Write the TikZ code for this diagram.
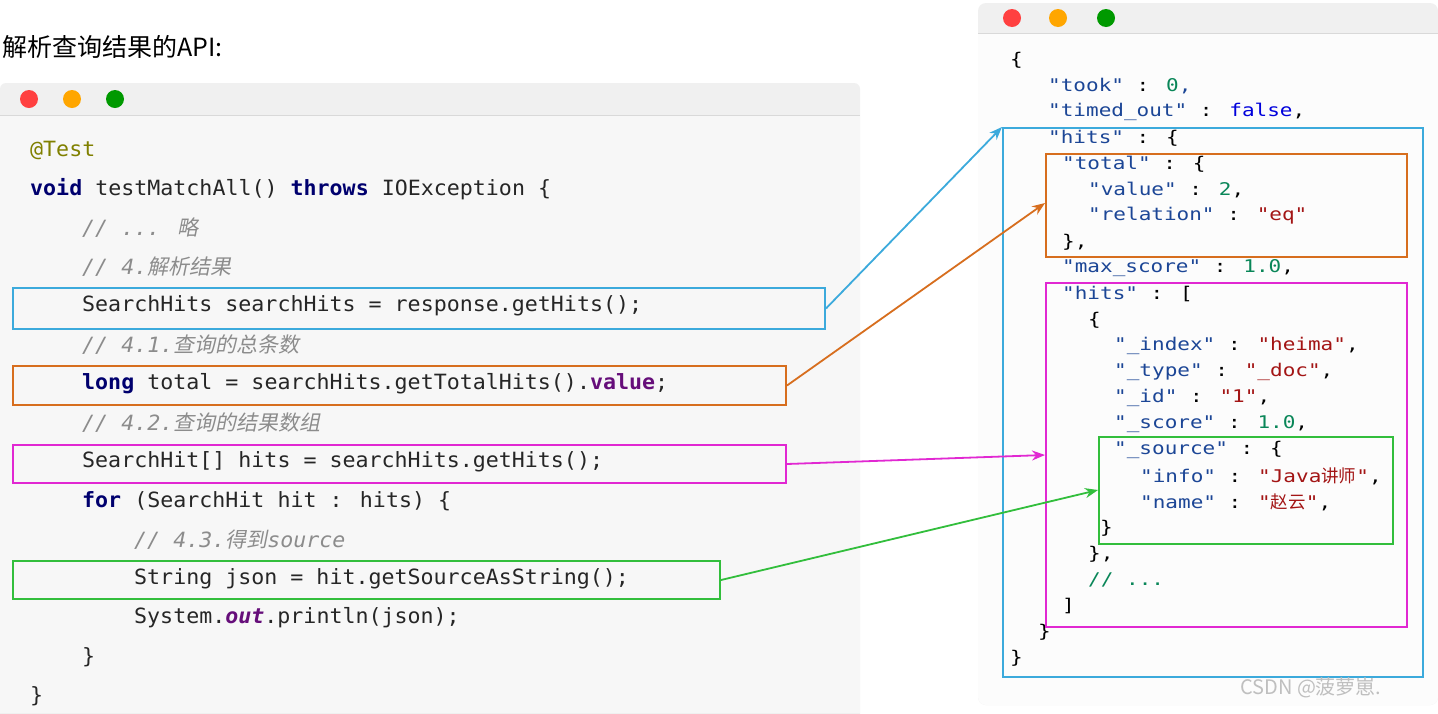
\documentclass[tikz,border=0pt]{standalone}
\usepackage{fontspec}
\setmainfont{DejaVu Sans}
\newfontfamily\cjk{Noto Sans CJK SC}
\newfontfamily\cjkit{Noto Sans CJK SC}[FakeSlant=0.2]
\newfontfamily\lmono{DejaVu Sans Mono}[FakeStretch=1.03]
\newfontfamily\rmono{DejaVu Sans Mono}[FakeStretch=1.2]
\usetikzlibrary{arrows.meta}
\definecolor{kw}{RGB}{0,0,110}
\definecolor{cm}{RGB}{140,140,140}
\definecolor{ann}{RGB}{128,128,0}
\definecolor{pv}{RGB}{102,14,122}
\definecolor{jk}{RGB}{28,70,150}
\definecolor{jn}{RGB}{9,134,88}
\definecolor{js}{RGB}{163,21,21}
\definecolor{jb}{RGB}{0,0,220}
\definecolor{cblue}{RGB}{60,170,220}
\definecolor{corange}{RGB}{215,110,30}
\definecolor{cmag}{RGB}{225,40,210}
\definecolor{cgreen}{RGB}{50,190,60}
\begin{document}
\begin{tikzpicture}[x=1pt,y=-1pt,
  lc/.style={anchor=west,inner sep=0,font=\lmono\fontsize{21}{24}\selectfont,text=black!85},
  rc/.style={anchor=west,inner sep=0,font=\rmono\fontsize{17.5}{20}\selectfont,text=jk},
  box/.style={draw,line width=2pt,inner sep=0,anchor=north west},
  arr/.style={line width=1.8pt,-{Stealth[length=13pt,width=10pt]}},
  dot/.style={circle,inner sep=0,minimum size=18pt}]
\useasboundingbox (0,0) rectangle (1438,713);
\fill[white] (0,0) rectangle (1438,713);
\node[anchor=west,inner sep=0,font=\cjk\fontsize{25}{28}\selectfont] (title) at (2,47) {解析查询结果的API:};
% left window
\fill[black!6,rounded corners=6pt] (0,83) rectangle (860,740);
\fill[black!3] (0,115) rectangle (860,713);
\draw[black!15] (0,115) -- (860,115);
\node[dot,fill=red!75] (l1) at (29,99) {};
\node[dot,fill=orange!70!yellow] (l2) at (72,99) {};
\node[dot,fill=green!60!black] (l3) at (115,99) {};
\node[lc,text=ann] (c1) at (30,150) {@Test};
\node[lc] (c2) at (30,189) {\textbf{\color{kw}void} testMatchAll() \textbf{\color{kw}throws} IOException \{};
\node[lc,text=cm] (c3) at (82,228) {\itshape // ... {\cjkit 略}};
\node[lc,text=cm] (c4) at (82,267) {\itshape // 4.{\cjkit 解析结果}};
\node[lc] (c5) at (82,306) {SearchHits searchHits = response.getHits();};
\node[lc,text=cm] (c6) at (82,345) {\itshape // 4.1.{\cjkit 查询的总条数}};
\node[lc] (c7) at (82,384) {\textbf{\color{kw}long} total = searchHits.getTotalHits().\textbf{\color{pv}value};};
\node[lc,text=cm] (c8) at (82,423) {\itshape // 4.2.{\cjkit 查询的结果数组}};
\node[lc] (c9) at (82,462) {SearchHit[] hits = searchHits.getHits();};
\node[lc] (c10) at (82,501) {\textbf{\color{kw}for} (SearchHit hit : hits) \{};
\node[lc,text=cm] (c11) at (134,540) {\itshape // 4.3.{\cjkit 得到}source};
\node[lc] (c12) at (134,579) {String json = hit.getSourceAsString();};
\node[lc] (c13) at (134,618) {System.\textbf{\itshape\color{pv}out}.println(json);};
\node[lc] (c14) at (82,657) {\}};
\node[lc] (c15) at (30,696) {\}};
\node[box,draw=cblue,minimum width=812pt,minimum height=41pt] (bB) at (12,287) {};
\node[box,draw=corange,minimum width=773pt,minimum height=39pt] (bO) at (12,365) {};
\node[box,draw=cmag,minimum width=773pt,minimum height=38pt] (bM) at (12,444) {};
\node[box,draw=cgreen,minimum width=707pt,minimum height=38pt] (bG) at (12,560) {};
% right window
\fill[black!6,rounded corners=8pt] (978,3) rectangle (1438,705);
\fill[black!1,rounded corners=8pt] (978,33) rectangle (1438,705);
\fill[black!1] (978,33) rectangle (1438,45);
\draw[black!15] (978,33) -- (1438,33);
\node[dot,fill=red!75] (r1) at (1012,18) {};
\node[dot,fill=orange!70!yellow] (r2) at (1058,18) {};
\node[dot,fill=green!60!black] (r3) at (1106,18) {};
\node[rc,text=black] (j1) at (1010,60) {\{};
\node[rc] (j2) at (1048,86) {"took" {\color{black}:} {\color{jn}0},};
\node[rc] (j3) at (1048,112) {"timed\_out" {\color{black}:} {\color{jb}false}{\color{black},}};
\node[rc] (j4) at (1048,138) {"hits" {\color{black}: \{}};
\node[rc] (j5) at (1062,164) {"total" {\color{black}: \{}};
\node[rc] (j6) at (1088,190) {"value" {\color{black}:} {\color{jn}2}{\color{black},}};
\node[rc] (j7) at (1088,216) {"relation" {\color{black}:} {\color{js}"eq"}};
\node[rc,text=black] (j8) at (1062,242) {\},};
\node[rc] (j9) at (1062,268) {"max\_score" {\color{black}:} {\color{jn}1.0}{\color{black},}};
\node[rc] (j10) at (1062,294) {"hits" {\color{black}: [}};
\node[rc,text=black] (j11) at (1088,320) {\{};
\node[rc] (j12) at (1114,346) {"\_index" {\color{black}:} {\color{js}"heima"}{\color{black},}};
\node[rc] (j13) at (1114,372) {"\_type" {\color{black}:} {\color{js}"\_doc"}{\color{black},}};
\node[rc] (j14) at (1114,398) {"\_id" {\color{black}:} {\color{js}"1"}{\color{black},}};
\node[rc] (j15) at (1114,424) {"\_score" {\color{black}:} {\color{jn}1.0}{\color{black},}};
\node[rc] (j16) at (1114,450) {"\_source" {\color{black}: \{}};
\node[rc] (j17) at (1140,476) {"info" {\color{black}:} {\color{js}"Java{\cjk 讲师}"}{\color{black},}};
\node[rc] (j18) at (1140,502) {"name" {\color{black}:} {\color{js}"{\cjk 赵云}"}{\color{black},}};
\node[rc,text=black] (j19) at (1100,528) {\}};
\node[rc,text=black] (j20) at (1088,554) {\},};
\node[rc,text=jn] (j21) at (1088,580) {// ...};
\node[rc,text=black] (j22) at (1062,606) {]};
\node[rc,text=black] (j23) at (1038,632) {\}};
\node[rc,text=black] (j24) at (1010,658) {\}};
\node[box,draw=cblue,minimum width=420pt,minimum height=549pt] (rB) at (1002,127) {};
\node[box,draw=corange,minimum width=361pt,minimum height=103pt] (rO) at (1045,153) {};
\node[box,draw=cmag,minimum width=361pt,minimum height=344pt] (rM) at (1045,282) {};
\node[box,draw=cgreen,minimum width=294pt,minimum height=107pt] (rG) at (1098,436) {};
\node[anchor=west,inner sep=0,text=black!25,font=\cjk\fontsize{20}{22}\selectfont] (wm) at (1240,688) {CSDN @菠萝崽.};
% arrows
\draw[arr,draw=cblue] (bB.east) -- (rB.north west);
\draw[arr,draw=corange] (bO.east) -- ([yshift=-50pt]rO.north west);
\draw[arr,draw=cmag] (bM.east) -- ([yshift=-173pt]rM.north west);
\draw[arr,draw=cgreen] (bG.east) -- ([yshift=-54pt]rG.north west);
\end{tikzpicture}
\end{document}
